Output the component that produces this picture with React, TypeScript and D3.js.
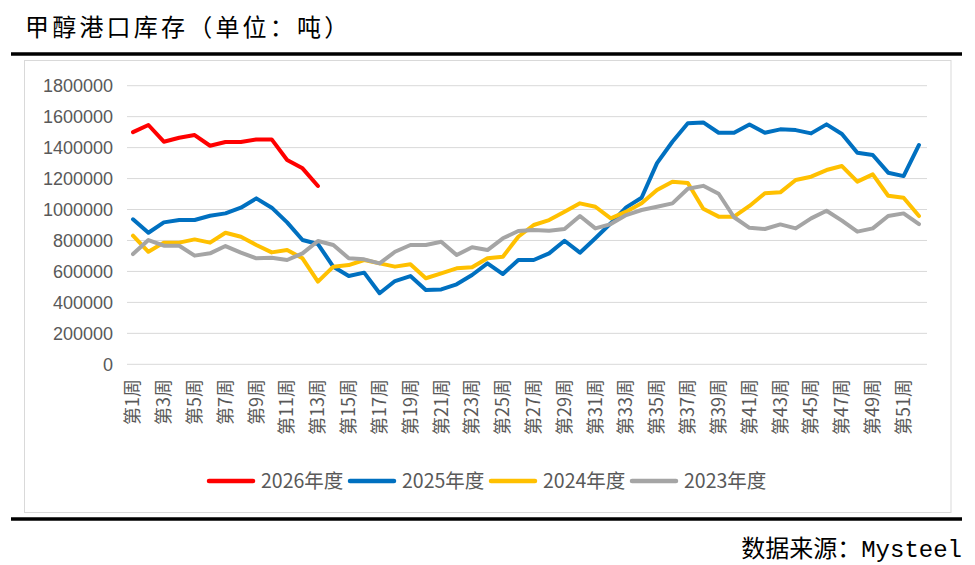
import * as d3 from "d3";

const weeks = d3.range(1, 53);
const yTicks = [0, 200000, 400000, 600000, 800000, 1000000, 1200000, 1400000, 1600000, 1800000];

const s2026 = [1500000, 1546000, 1438000, 1464000, 1481000, 1412000, 1436000, 1436000, 1453000, 1453000, 1320000, 1266000, 1152000];

const s2025 = [
  937000, 850000, 917000, 932000, 932000, 960000, 975000, 1012000, 1072000, 1012000,
  917000, 803000, 777000, 630000, 570000, 592000, 459000, 538000, 570000, 480000,
  484000, 517000, 577000, 652000, 583000, 674000, 674000, 717000, 798000, 721000,
  814000, 911000, 1014000, 1076000, 1300000, 1438000, 1557000, 1563000, 1496000, 1496000,
  1550000, 1496000, 1518000, 1513000, 1492000, 1550000, 1488000, 1367000, 1352000, 1238000,
  1216000, 1417000,
];

const s2024 = [
  831000, 727000, 786000, 786000, 807000, 786000, 850000, 824000, 771000, 723000,
  738000, 685000, 534000, 631000, 641000, 674000, 652000, 631000, 646000, 556000,
  588000, 620000, 627000, 685000, 695000, 824000, 900000, 932000, 986000, 1040000,
  1018000, 943000, 986000, 1040000, 1126000, 1180000, 1172000, 1005000, 954000, 954000,
  1023000, 1105000, 1111000, 1191000, 1212000, 1255000, 1281000, 1180000, 1227000, 1089000,
  1076000, 958000,
];

const s2023 = [
  712000, 803000, 766000, 766000, 702000, 717000, 764000, 721000, 685000, 689000,
  674000, 717000, 797000, 771000, 685000, 678000, 652000, 727000, 771000, 771000,
  792000, 706000, 756000, 738000, 814000, 861000, 868000, 863000, 874000, 958000,
  878000, 906000, 964000, 997000, 1018000, 1040000, 1134000, 1153000, 1102000, 950000,
  882000, 874000, 904000, 878000, 943000, 992000, 928000, 857000, 878000, 958000,
  975000, 906000,
];

const series = [
  { name: "2026年度", color: "#FF0000", values: s2026 },
  { name: "2025年度", color: "#0070C0", values: s2025 },
  { name: "2024年度", color: "#FFC000", values: s2024 },
  { name: "2023年度", color: "#A5A5A5", values: s2023 },
];

const FONT = "'Noto Sans CJK SC', 'Noto Sans', sans-serif";

export default function App() {
  const width = 975;
  const height = 565;

  const x = d3.scalePoint<number>().domain(weeks).range([133, 919]);
  const y = d3.scaleLinear().domain([0, 1800000]).range([364.3, 85.7]);

  const line = d3
    .line<number>()
    .x((_, i) => x(weeks[i])!)
    .y((d) => y(d));

  const labelWeeks = weeks.filter((w) => w % 2 === 1);

  return (
    <svg
      width={width}
      height={height}
      style={{ position: "absolute", left: 0, top: 0, background: "#fff" }}
    >
      {/* title */}
      <text x={25} y={36} fontFamily={FONT} fontSize={24} letterSpacing={3.2} fill="#000">
        甲醇港口库存（单位：吨）
      </text>
      <line x1={11} x2={962} y1={54} y2={54} stroke="#000" strokeWidth={3.5} />

      {/* chart frame */}
      <rect x={24.5} y={60.5} width={926.5} height={452} fill="#fff" stroke="#d9d9d9" strokeWidth={1} />

      {/* gridlines + y labels */}
      {yTicks.map((t) => (
        <g key={t}>
          <line x1={127} x2={927} y1={y(t)} y2={y(t)} stroke="#d9d9d9" strokeWidth={1} />
          <text
            x={113}
            y={y(t)}
            dy="0.35em"
            textAnchor="end"
            fontFamily="'Liberation Sans', Arial, sans-serif"
            fontSize={18}
            fill="#595959"
          >
            {t}
          </text>
        </g>
      ))}

      {/* x labels */}
      {labelWeeks.map((w) => (
        <text
          key={w}
          transform={`translate(${x(w)},379) rotate(-90)`}
          dy="0.35em"
          textAnchor="end"
          fontFamily={FONT}
          fontSize={18}
          fill="#595959"
        >
          {`第${w}周`}
        </text>
      ))}

      {/* series */}
      {series.map((s) => (
        <path
          key={s.name}
          d={line(s.values) ?? ""}
          fill="none"
          stroke={s.color}
          strokeWidth={4}
          strokeLinejoin="round"
          strokeLinecap="round"
        />
      ))}

      {/* legend */}
      {series.map((s, i) => {
        const lx = 207 + i * 141;
        return (
          <g key={s.name}>
            <line x1={lx + 2} x2={lx + 46} y1={481} y2={481} stroke={s.color} strokeWidth={4.5} strokeLinecap="round" />
            <text x={lx + 54} y={481} dy="0.35em" fontFamily={FONT} fontSize={19.5} fill="#595959">
              {s.name}
            </text>
          </g>
        );
      })}

      <line x1={11} x2={962} y1={519} y2={519} stroke="#000" strokeWidth={3.5} />

      {/* source */}
      <text x={962} y={557} textAnchor="end" fontSize={24} fill="#000">
        <tspan fontFamily={FONT}>数据来源：</tspan>
        <tspan fontFamily="'Liberation Mono', monospace">Mysteel</tspan>
      </text>
    </svg>
  );
}
